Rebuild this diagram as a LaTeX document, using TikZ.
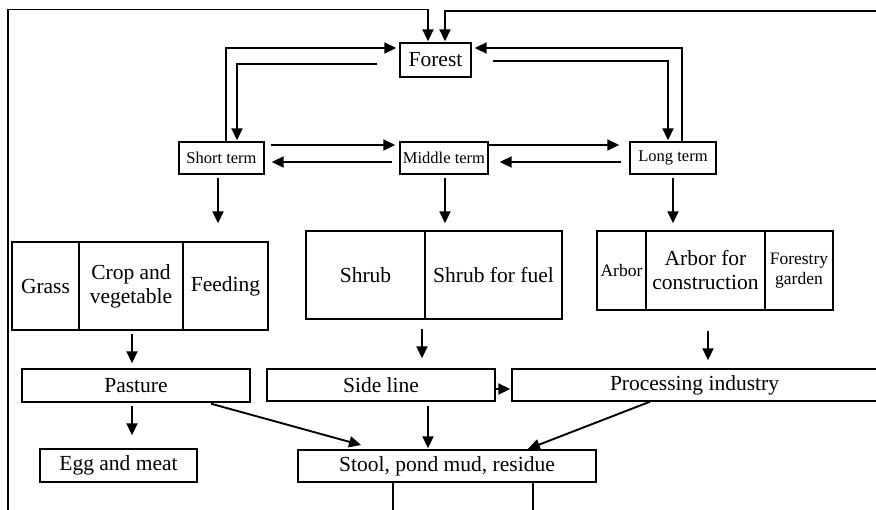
\documentclass[tikz,border=0pt]{standalone}
\usepackage{fontspec}
\setmainfont{Liberation Serif}
\usetikzlibrary{arrows.meta}
\begin{document}
\begin{tikzpicture}[x=1pt,y=-1pt,
  box/.style={draw, line width=1.4pt, inner sep=0pt, align=center,
    font=\fontsize{21.5}{24}\selectfont},
  termbox/.style={box, font=\fontsize{16.5}{19}\selectfont, minimum height=32pt},
  smalltext/.style={font=\fontsize{17.5}{20}\selectfont},
  arr/.style={line width=1.9pt, -{Triangle[length=12pt,width=11pt]}, shorten >=1pt},
  link/.style={line width=1.9pt}]

\useasboundingbox (0,0) rectangle (876,509);
\clip (0,0) rectangle (876,509);

% top level
\node[box, minimum width=71pt, minimum height=34pt] (forest) at (435.5,60) {Forest};

% planning horizons
\node[termbox, minimum width=85pt] (short)  at (221.5,158) {Short term};
\node[termbox, minimum width=88pt] (middle) at (444,158)   {Middle term};
\node[termbox, minimum width=86pt] (long)   at (673,158)   {Long term};

% short term products
\node[box, minimum width=67pt,  minimum height=88pt] (grass)   at (45.5,286)  {Grass};
\node[box, minimum width=104pt, minimum height=88pt] (crop)    at (131,286)   {Crop and\\vegetable};
\node[box, minimum width=85pt,  minimum height=88pt] (feeding) at (225.5,286) {Feeding};

% middle term products
\node[box, minimum width=119pt, minimum height=88pt] (shrub) at (365.5,275) {Shrub};
\node[box, minimum width=137pt, minimum height=88pt] (fuel)  at (493.5,275) {Shrub for fuel};

% long term products
\node[box, smalltext, minimum width=49pt, minimum height=79pt] (arbor) at (621.5,270.5) {Arbor};
\node[box, minimum width=119pt, minimum height=79pt] (constr) at (705.5,270.5) {Arbor for\\construction};
\node[box, smalltext, minimum width=68pt, minimum height=79pt] (garden) at (799,270.5) {Forestry\\garden};

% processing level
\node[box, minimum width=228pt, minimum height=33pt] (pasture) at (136,385.5) {Pasture};
\node[box, minimum width=228pt, minimum height=32pt] (side)    at (381,385)   {Side line};
\node[box, minimum width=365pt, minimum height=32pt] (proc)    at (694.5,385) {Processing industry};

% outputs
\node[box, minimum width=157pt, minimum height=33pt] (egg)   at (118.5,465.5) {Egg and meat};
\node[box, minimum width=298pt, minimum height=32pt] (stool) at (447,466)     {Stool, pond mud, residue};

% frame of return lines
\coordinate (lb)   at (8,512);
\coordinate (tl)   at (8,9.5);
\coordinate (tr)   at (880,11);
\coordinate (out1) at (393,512);
\coordinate (out2) at (533,512);

\draw[arr] (lb) -- (tl) -| ([xshift=-7.5pt]forest.north);
\draw[arr] (tr) -| ([xshift=9.5pt]forest.north);

% forest <-> short / long term
\draw[arr] ([xshift=4.5pt]short.north) |- ([xshift=-2pt,yshift=12pt]forest.west);
\draw[arr] ([xshift=-22pt,yshift=-4pt]forest.west) -| ([xshift=15.5pt]short.north);
\draw[arr] ([xshift=9pt]long.north) |- ([xshift=2pt,yshift=12pt]forest.east);
\draw[arr] ([xshift=21pt,yshift=-1pt]forest.east) -| ([xshift=-5pt]long.north);

% between horizons
\draw[arr] ([xshift=6pt,yshift=13pt]short.east) -- ([xshift=-3pt,yshift=13pt]middle.west);
\draw[arr] ([xshift=-7pt,yshift=-4pt]middle.west) -- ([xshift=6pt,yshift=-4pt]short.east);
\draw[arr] ([yshift=13pt]middle.east) -- ([xshift=-9pt,yshift=13pt]long.west);
\draw[arr] ([xshift=-8pt,yshift=-4pt]long.west) -- ([xshift=10pt,yshift=-4pt]middle.east);

% horizons to products
\draw[arr] ([xshift=-3.5pt,yshift=-3pt]short.south) -- ([xshift=-7.5pt,yshift=17pt]feeding.north);
\draw[arr] ([xshift=1pt,yshift=-3pt]middle.south) -- ([xshift=-48.5pt,yshift=6pt]fuel.north);
\draw[arr] ([yshift=-3pt]long.south) -- ([xshift=-32.5pt,yshift=6pt]constr.north);

% products to processing
\draw[arr] ([xshift=1pt,yshift=-3pt]crop.south) -- ([xshift=-4pt,yshift=4pt]pasture.north);
\draw[arr] ([xshift=56.5pt,yshift=-9pt]shrub.south) -- ([xshift=41pt,yshift=9pt]side.north);
\draw[arr] ([xshift=2.5pt,yshift=-20pt]constr.south) -- ([xshift=13.5pt,yshift=7pt]proc.north);
\draw[arr] ([yshift=-4pt]side.east) -- ([yshift=-4pt]proc.west);

% processing to outputs
\draw[arr] ([xshift=-4pt,yshift=-3pt]pasture.south) -- ([xshift=13.5pt,yshift=12pt]egg.north);
\draw[arr] ([xshift=75pt,yshift=-1pt]pasture.south) -- ([xshift=-85pt,yshift=4pt]stool.north);
\draw[arr] ([xshift=47pt,yshift=-4pt]side.south) -- ([xshift=-19pt]stool.north);
\draw[arr] ([xshift=-44.5pt]proc.south) -- ([xshift=80pt]stool.north);

% outgoing lines below
\draw[link] (stool.south -| out1) -- (out1);
\draw[link] (stool.south -| out2) -- (out2);
\end{tikzpicture}
\end{document}
